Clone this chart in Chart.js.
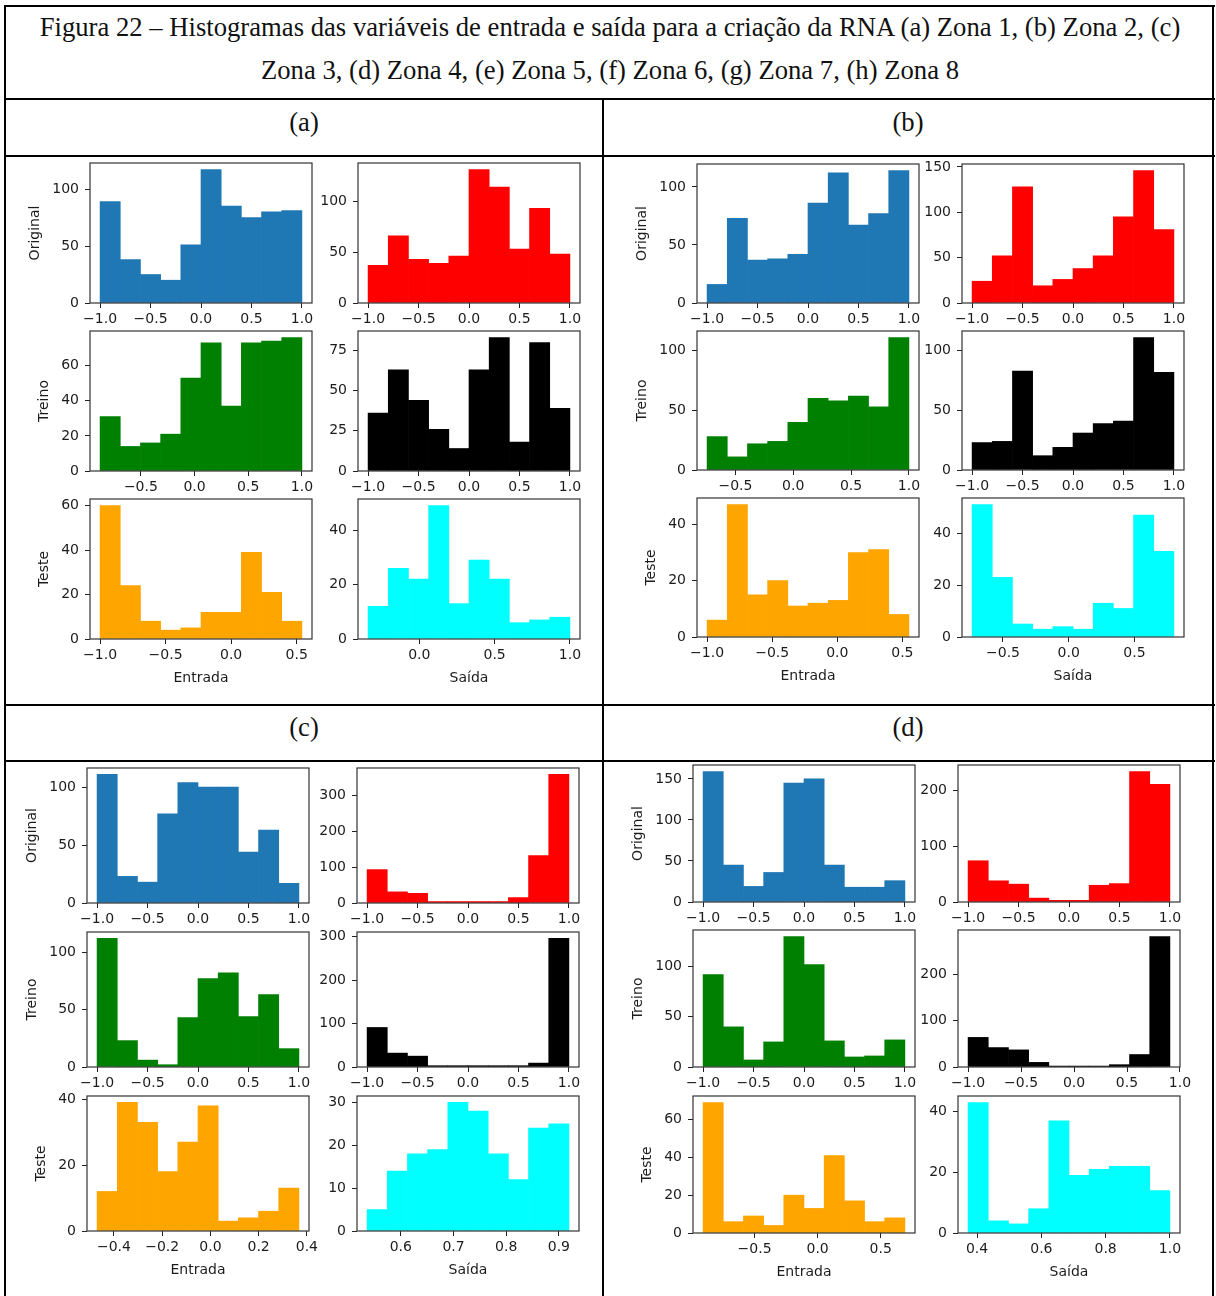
<!DOCTYPE html>
<html>
<head>
<meta charset="utf-8">
<script src="https://cdn.jsdelivr.net/npm/chart.js@4.4.1/dist/chart.umd.min.js"></script>
<style>
  html, body { margin: 0; padding: 0; background: #fff; }
  body { width: 1216px; height: 1296px; position: relative; overflow: hidden; }
  .ln { position: absolute; background: #000; }
  .cap { position: absolute; font-family: 'Liberation Serif', 'Times New Roman', serif; color: #111;
         white-space: nowrap; line-height: 30px; height: 30px; transform: translateX(-50%); }
  canvas { position: absolute; }
</style>
</head>
<body>
<!-- table lines -->
<div class="ln" style="left:4px;top:5px;width:1211px;height:2px"></div>
<div class="ln" style="left:4px;top:5px;width:2px;height:1291px"></div>
<div class="ln" style="left:1212px;top:5px;width:2px;height:1291px"></div>
<div class="ln" style="left:4px;top:98px;width:1211px;height:2px"></div>
<div class="ln" style="left:602px;top:98px;width:2px;height:1198px"></div>
<div class="ln" style="left:4px;top:155px;width:1211px;height:1.5px"></div>
<div class="ln" style="left:4px;top:704px;width:1211px;height:2px"></div>
<div class="ln" style="left:4px;top:760px;width:1211px;height:1.5px"></div>

<div class="cap" id="t1" style="left:610px;top:12px">Figura 22 – Histogramas das variáveis de entrada e saída para a criação da RNA (a) Zona 1, (b) Zona 2, (c)</div>
<div class="cap" id="t2" style="left:610px;top:55px">Zona 3, (d) Zona 4, (e) Zona 5, (f) Zona 6, (g) Zona 7, (h) Zona 8</div>
<div class="cap hd" style="left:304px;top:107px">(a)</div>
<div class="cap hd" style="left:908px;top:107px">(b)</div>
<div class="cap hd" style="left:304px;top:712px">(c)</div>
<div class="cap hd" style="left:908px;top:712px">(d)</div>

<script>
// ---------------- DATA (counts per bin, bin range [min,max], tick values) ----------------
// Zona 1 (a)
const z1_orig_in = [89, 38, 25, 20, 51, 117, 85, 75, 80, 81];
const z1_orig_in_rng = [-1.0, 1.0];
const z1_orig_out = [37, 66, 43, 39, 46, 131, 114, 53, 93, 48];
const z1_orig_out_rng = [-1.0, 1.0];
const z1_tr_in = [31, 14, 16, 21, 53, 73, 37, 73, 74, 76];
const z1_tr_in_rng = [-0.88, 1.0];
const z1_tr_out = [36, 63, 44, 26, 14, 63, 83, 18, 80, 39];
const z1_tr_out_rng = [-1.0, 1.0];
const z1_te_in = [60, 24, 8, 4, 5, 12, 12, 39, 21, 8];
const z1_te_in_rng = [-1.0, 0.54];
const z1_te_out = [12, 26, 22, 49, 13, 29, 22, 6, 7, 8];
const z1_te_out_rng = [-0.34, 1.0];

// Zona 2 (b)
const z2_orig_in = [16, 73, 37, 38, 42, 86, 112, 67, 77, 114];
const z2_orig_in_rng = [-1.0, 1.0];
const z2_orig_out = [24, 52, 128, 19, 26, 38, 52, 95, 146, 81];
const z2_orig_out_rng = [-1.0, 1.0];
const z2_tr_in = [28, 11, 22, 24, 40, 60, 58, 62, 53, 111];
const z2_tr_in_rng = [-0.745, 1.0];
const z2_tr_out = [23, 24, 83, 12, 19, 31, 39, 41, 111, 82];
const z2_tr_out_rng = [-1.0, 1.0];
const z2_te_in = [6, 47, 15, 20, 11, 12, 13, 30, 31, 8];
const z2_te_in_rng = [-1.0, 0.55];
const z2_te_out = [51, 23, 5, 3, 4, 3, 13, 11, 47, 33];
const z2_te_out_rng = [-0.735, 0.80];

// Zona 3 (c)
const z3_orig_in = [111, 23, 18, 77, 104, 100, 100, 44, 63, 17];
const z3_orig_in_rng = [-1.0, 1.0];
const z3_orig_out = [93, 31, 27, 4, 4, 4, 4, 15, 132, 358];
const z3_orig_out_rng = [-1.0, 1.0];
const z3_tr_in = [112, 23, 6, 2, 43, 77, 82, 44, 63, 16];
const z3_tr_in_rng = [-1.0, 1.0];
const z3_tr_out = [91, 32, 25, 3, 3, 3, 3, 3, 9, 296];
const z3_tr_out_rng = [-1.0, 1.0];
const z3_te_in = [12, 39, 33, 18, 27, 38, 3, 4, 6, 13];
const z3_te_in_rng = [-0.47, 0.367];
const z3_te_out = [5, 14, 18, 19, 30, 28, 18, 12, 24, 25];
const z3_te_out_rng = [0.536, 0.919];

// Zona 4 (d)
const z4_orig_in = [159, 45, 19, 36, 145, 150, 45, 18, 18, 26];
const z4_orig_in_rng = [-1.0, 1.0];
const z4_orig_out = [74, 38, 32, 7, 3, 3, 30, 33, 234, 211];
const z4_orig_out_rng = [-1.0, 1.0];
const z4_tr_in = [92, 40, 7, 25, 130, 102, 26, 10, 11, 27];
const z4_tr_in_rng = [-1.0, 1.0];
const z4_tr_out = [64, 42, 37, 10, 2, 2, 2, 5, 27, 282];
const z4_tr_out_rng = [-1.0, 0.905];
const z4_te_in = [69, 6, 9, 4, 20, 13, 41, 17, 6, 8];
const z4_te_in_rng = [-0.908, 0.692];
const z4_te_out = [43, 4, 3, 8, 37, 19, 21, 22, 22, 14];
const z4_te_out_rng = [0.372, 1.0];

// tick values
const xt_full = [-1.0, -0.5, 0.0, 0.5, 1.0];
const xt_half_up = [-0.5, 0.0, 0.5, 1.0];
const xt_te_in = [-1.0, -0.5, 0.0, 0.5];
const xt_z1_te_out = [0.0, 0.5, 1.0];
const xt_z2_te_out = [-0.5, 0.0, 0.5];
const xt_z3_te_in = [-0.4, -0.2, 0.0, 0.2, 0.4];
const xt_z3_te_out = [0.6, 0.7, 0.8, 0.9];
const xt_z4_te_in = [-0.5, 0.0, 0.5];
const xt_z4_te_out = [0.4, 0.6, 0.8, 1.0];

const yt_50_100 = [0, 50, 100];
const yt_50_150 = [0, 50, 100, 150];
const yt_20_60 = [0, 20, 40, 60];
const yt_25_75 = [0, 25, 50, 75];
const yt_20_40 = [0, 20, 40];
const yt_100_200 = [0, 100, 200];
const yt_100_300 = [0, 100, 200, 300];
const yt_10_30 = [0, 10, 20, 30];

const rowTitles = ['Original', 'Treino', 'Teste'];
const xTitles = ['Entrada', 'Saída'];
const colors = { blue: '#1f77b4', red: '#ff0000', green: '#008000', black: '#000000', orange: '#ffa500', cyan: '#00ffff' };

// ---------------- LAYOUT (axes boxes per zone) ----------------
const zones = {
  z1: { colL: [90, 358], rowT: [163, 331, 499], h: 140 },
  z2: { colL: [697, 962], rowT: [164, 331, 498], h: 139 },
  z3: { colL: [87, 357], rowT: [768, 932, 1096], h: 135 },
  z4: { colL: [693, 958], rowT: [765, 930, 1096], h: 137 }
};
const AXW = 222;

const specs = [
  ['z1',0,0,z1_orig_in,z1_orig_in_rng,'blue',xt_full,yt_50_100],
  ['z1',1,0,z1_orig_out,z1_orig_out_rng,'red',xt_full,yt_50_100],
  ['z1',0,1,z1_tr_in,z1_tr_in_rng,'green',xt_half_up,yt_20_60],
  ['z1',1,1,z1_tr_out,z1_tr_out_rng,'black',xt_full,yt_25_75],
  ['z1',0,2,z1_te_in,z1_te_in_rng,'orange',xt_te_in,yt_20_60],
  ['z1',1,2,z1_te_out,z1_te_out_rng,'cyan',xt_z1_te_out,yt_20_40],

  ['z2',0,0,z2_orig_in,z2_orig_in_rng,'blue',xt_full,yt_50_100],
  ['z2',1,0,z2_orig_out,z2_orig_out_rng,'red',xt_full,yt_50_150],
  ['z2',0,1,z2_tr_in,z2_tr_in_rng,'green',xt_half_up,yt_50_100],
  ['z2',1,1,z2_tr_out,z2_tr_out_rng,'black',xt_full,yt_50_100],
  ['z2',0,2,z2_te_in,z2_te_in_rng,'orange',xt_te_in,yt_20_40],
  ['z2',1,2,z2_te_out,z2_te_out_rng,'cyan',xt_z2_te_out,yt_20_40],

  ['z3',0,0,z3_orig_in,z3_orig_in_rng,'blue',xt_full,yt_50_100],
  ['z3',1,0,z3_orig_out,z3_orig_out_rng,'red',xt_full,yt_100_300],
  ['z3',0,1,z3_tr_in,z3_tr_in_rng,'green',xt_full,yt_50_100],
  ['z3',1,1,z3_tr_out,z3_tr_out_rng,'black',xt_full,yt_100_300],
  ['z3',0,2,z3_te_in,z3_te_in_rng,'orange',xt_z3_te_in,yt_20_40],
  ['z3',1,2,z3_te_out,z3_te_out_rng,'cyan',xt_z3_te_out,yt_10_30],

  ['z4',0,0,z4_orig_in,z4_orig_in_rng,'blue',xt_full,yt_50_150],
  ['z4',1,0,z4_orig_out,z4_orig_out_rng,'red',xt_full,yt_100_200],
  ['z4',0,1,z4_tr_in,z4_tr_in_rng,'green',xt_full,yt_50_100],
  ['z4',1,1,z4_tr_out,z4_tr_out_rng,'black',xt_full,yt_100_200],
  ['z4',0,2,z4_te_in,z4_te_in_rng,'orange',xt_z4_te_in,yt_20_60],
  ['z4',1,2,z4_te_out,z4_te_out_rng,'cyan',xt_z4_te_out,yt_20_40]
];

// ---------------- RENDER ----------------
const TICK_FONT = { family: "'DejaVu Sans', sans-serif", size: 14 };
const TXT = '#1c1c1c';
const framePlugin = {
  id: 'frame',
  afterDatasetsDraw(chart) {
    const a = chart.chartArea, ctx = chart.ctx;
    ctx.save();
    ctx.strokeStyle = '#333';
    ctx.lineWidth = 1.2;
    ctx.strokeRect(a.left, a.top, a.right - a.left, a.bottom - a.top);
    ctx.restore();
  }
};
function fmtX(v) {
  const s = Math.abs(v) < 1e-9 ? '0.0' : Number(v).toFixed(1);
  return s.replace('-', '\u2212');
}

function hist(zoneKey, col, row, counts, rng, colorKey, xt, yt) {
  const z = zones[zoneKey];
  const L = z.colL[col], T = z.rowT[row], H = z.h;
  const W = 80, PT = 16, PR = 18;
  const hasXTitle = row === 2;
  const HX = hasXTitle ? 48 : 30;
  const cv = document.createElement('canvas');
  const cw = W + AXW + PR, ch = PT + H + HX;
  cv.width = cw; cv.height = ch;
  cv.style.width = cw + 'px'; cv.style.height = ch + 'px';
  cv.style.left = (L - W) + 'px'; cv.style.top = (T - PT) + 'px';
  document.body.appendChild(cv);

  const n = counts.length;
  const span = rng[1] - rng[0];
  const bw = span / n;
  const data = counts.map((c, i) => ({ x: rng[0] + (i + 0.5) * bw, y: c }));
  const ymax = Math.max(...counts) * 1.05;
  const digits = String(Math.max(...yt)).length;
  const titleOffset = 10 + 8.9 * digits + 18;
  const yTitlePad = W - titleOffset - 8.4;

  new Chart(cv, {
    type: 'bar',
    data: { datasets: [{ data, backgroundColor: colors[colorKey], borderWidth: 0,
                         barPercentage: 1, categoryPercentage: 1 }] },
    options: {
      responsive: false, animation: false, events: [],
      layout: { padding: { top: PT, right: PR, left: 0, bottom: 0 } },
      plugins: { legend: { display: false }, tooltip: { enabled: false } },
      scales: {
        x: {
          type: 'linear', offset: false,
          min: rng[0] - 0.05 * span, max: rng[1] + 0.05 * span,
          afterBuildTicks: s => { s.ticks = xt.map(v => ({ value: v })); },
          afterFit: s => { s.height = HX; },
          ticks: { font: TICK_FONT, color: TXT, padding: 3, autoSkip: false, maxRotation: 0,
                   callback: v => fmtX(v) },
          grid: { display: true, offset: false, drawOnChartArea: false, drawTicks: true,
                  tickLength: 5, tickColor: '#222', tickWidth: 1 },
          border: { display: false },
          title: { display: hasXTitle, text: xTitles[col], font: TICK_FONT, color: TXT,
                   padding: { top: 0, bottom: 0 } }
        },
        y: {
          type: 'linear', min: 0, max: ymax,
          afterBuildTicks: s => { s.ticks = yt.map(v => ({ value: v })); },
          afterFit: s => { s.width = W; },
          ticks: { font: TICK_FONT, color: TXT, padding: 6, autoSkip: false,
                   callback: v => String(v) },
          grid: { display: true, drawOnChartArea: false, drawTicks: true,
                  tickLength: 5, tickColor: '#222', tickWidth: 1 },
          border: { display: false },
          title: { display: col === 0, text: rowTitles[row], font: TICK_FONT, color: TXT,
                   padding: { top: yTitlePad, bottom: 0 } }
        }
      }
    },
    plugins: [framePlugin]
  });
}

specs.forEach(s => hist(...s));

// fit caption size to the first title line width
(function () {
  const t1 = document.getElementById('t1');
  t1.style.fontSize = '26px';
  const w = t1.getBoundingClientRect().width;
  const fs = 26 * 1141 / w;
  document.querySelectorAll('.cap').forEach(e => { e.style.fontSize = fs.toFixed(2) + 'px'; });
})();
</script>
</body>
</html>
